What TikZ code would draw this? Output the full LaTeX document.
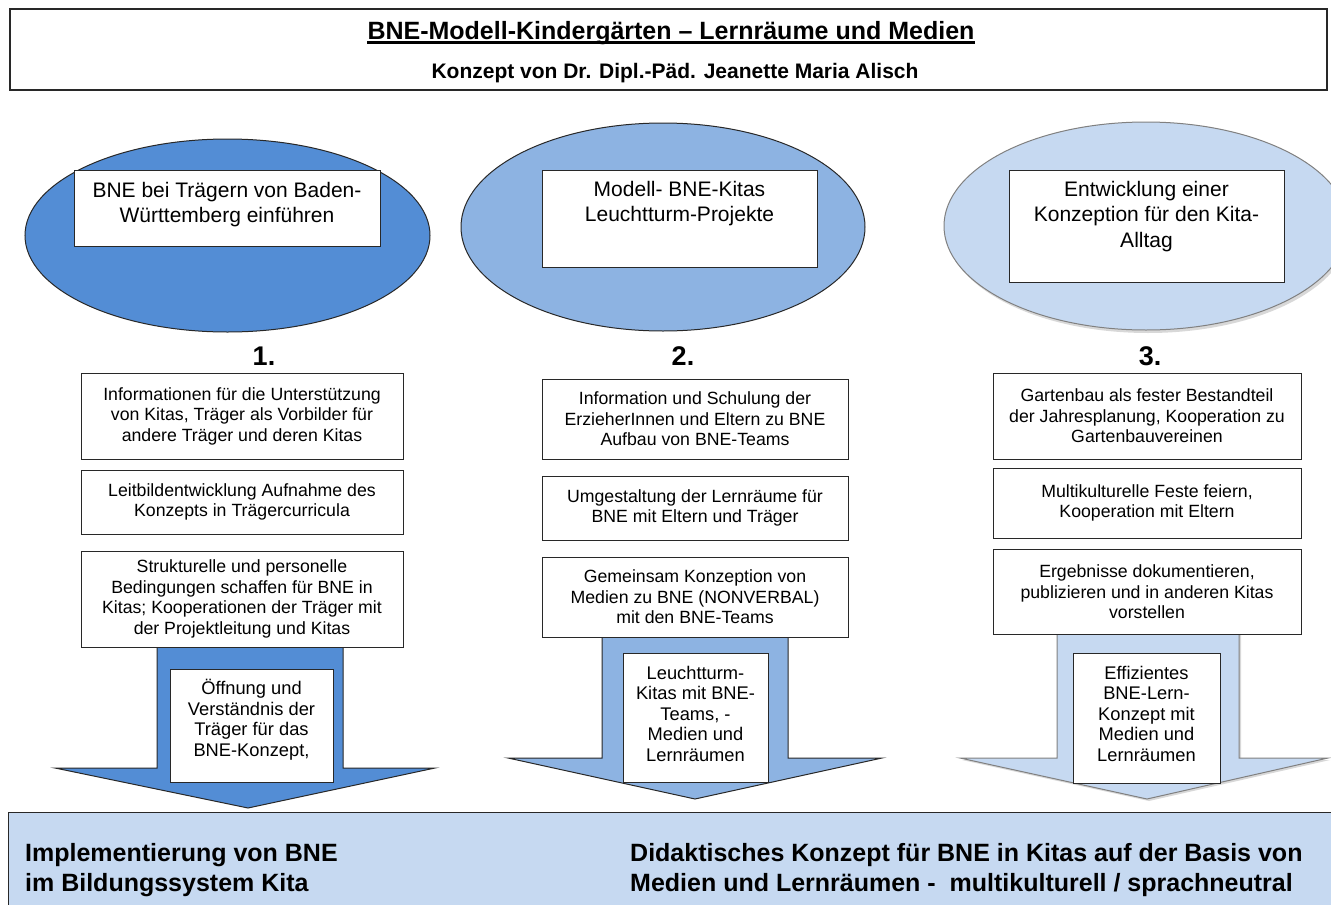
\documentclass[tikz,border=0pt]{standalone}
\usepackage{fontspec}
\setmainfont{Liberation Sans}
\usetikzlibrary{shapes.geometric,shadows}

\definecolor{bneblue}{RGB}{83,141,213}
\definecolor{bnemid}{RGB}{141,179,226}
\definecolor{bnepale}{RGB}{198,217,241}
\definecolor{bneline}{RGB}{40,40,40}
\definecolor{bnegrey}{RGB}{128,128,128}

\tikzset{
  oval/.style={ellipse, draw=bneline, line width=1pt, inner sep=0pt},
  headbox/.style={draw=bneline, fill=white, line width=1pt, inner sep=0pt},
  headtext/.style={anchor=north, align=center, inner sep=0pt, font=\fontsize{21}{25.5}\selectfont},
  numlabel/.style={anchor=base, inner sep=0pt, font=\bfseries\fontsize{27}{30}\selectfont},
  stepbox/.style={draw=bneline, fill=white, line width=1pt, align=center, inner sep=0pt,
    font=\fontsize{17.7}{20.5}\selectfont},
  blockarrow/.style={draw=bneline, line width=1pt, line join=miter},
  resultbox/.style={draw=bneline, fill=white, line width=1pt, inner sep=0pt},
  resulttext/.style={anchor=north, align=center, inner sep=0pt, font=\fontsize{18.3}{20.5}\selectfont},
  goaltext/.style={anchor=north west, align=left, inner sep=0pt, font=\bfseries\fontsize{25}{30}\selectfont}
}

\begin{document}
\begin{tikzpicture}[x=1pt,y=-1pt]
\clip (0,0) rectangle (1331,905);
\fill[white] (0,0) rectangle (1331,905);

% Kopf
\node[draw=bneline, line width=1.2pt, inner sep=0pt, minimum width=1317, minimum height=81] (titlebox) at (668.5,49.5) {};
\node[anchor=base, inner sep=0pt, font=\bfseries\fontsize{25}{30}\selectfont] (title) at (671,39) {BNE-Modell-Kindergärten – Lernräume und Medien};
\draw[line width=2.3pt] ([yshift=-3.5pt]title.base west) -- ([yshift=-3.5pt]title.base east);
\node[anchor=base, inner sep=0pt, font=\bfseries\fontsize{21}{25}\selectfont] (subtitle) at (675,78) {Konzept von Dr. Dipl.-Päd. Jeanette Maria Alisch};

% Ziele (Ellipsen)
\node[oval, fill=bneblue, minimum width=405, minimum height=193] (goal1) at (227.5,235.5) {};
\node[oval, fill=bnemid, minimum width=404, minimum height=208] (goal2) at (663,227) {};
\node[oval, fill=bnepale, draw=bnegrey, drop shadow={opacity=0.3, shadow xshift=2pt, shadow yshift=-3pt},
  minimum width=404, minimum height=208] (goal3) at (1146,226) {};

\node[headbox, minimum width=306, minimum height=76] (head1) at (227,208) {};
\node[headbox, minimum width=275, minimum height=97] (head2) at (679.5,218.5) {};
\node[headbox, minimum width=275, minimum height=112] (head3) at (1146.5,226) {};
\node[headtext] (headtext1) at (227,182) {BNE bei Trägern von Baden-\\Württemberg einführen};
\node[headtext] (headtext2) at (679.5,181) {Modell- BNE-Kitas\\Leuchtturm-Projekte};
\node[headtext] (headtext3) at (1146.5,181) {Entwicklung einer\\Konzeption für den Kita-\\Alltag};

\node[numlabel] (num1) at (264,365) {1.};
\node[numlabel] (num2) at (683,365) {2.};
\node[numlabel] (num3) at (1150,365) {3.};

% Blockpfeile
\draw[blockarrow, fill=bneblue] (157,640) -- (157,768) -- (55,768) -- (248,808) -- (435,768) -- (343,768) -- (343,640) -- cycle;
\draw[blockarrow, fill=bnemid] (602,630) -- (602,758) -- (508,758) -- (695,799) -- (882,758) -- (788,758) -- (788,630) -- cycle;
\draw[blockarrow, fill=bnepale, draw=bnegrey, drop shadow={opacity=0.3, shadow xshift=2pt, shadow yshift=-2pt}]
  (1057,630) -- (1057,758) -- (960,758) -- (1147,799) -- (1328,758) -- (1239,758) -- (1239,630) -- cycle;

% Spalte 1
\node[stepbox, minimum width=322, minimum height=86] (step1a) at (242,416) {Informationen für die Unterstützung\\von Kitas, Träger als Vorbilder für\\andere Träger und deren Kitas};
\node[stepbox, minimum width=322, minimum height=64] (step1b) at (242,502) {Leitbildentwicklung Aufnahme des\\Konzepts in Trägercurricula};
\node[stepbox, minimum width=322, minimum height=96] (step1c) at (242,599) {Strukturelle und personelle\\Bedingungen schaffen für BNE in\\Kitas; Kooperationen der Träger mit\\der Projektleitung und Kitas};

% Spalte 2
\node[stepbox, minimum width=306, minimum height=80] (step2a) at (695,419) {Information und Schulung der\\ErzieherInnen und Eltern zu BNE\\Aufbau von BNE-Teams};
\node[stepbox, minimum width=306, minimum height=64] (step2b) at (695,508) {Umgestaltung der Lernräume für\\BNE mit Eltern und Träger};
\node[stepbox, minimum width=306, minimum height=80] (step2c) at (695,597) {Gemeinsam Konzeption von\\Medien zu BNE (NONVERBAL)\\mit den BNE-Teams};

% Spalte 3
\node[stepbox, minimum width=308, minimum height=86] (step3a) at (1147,416) {Gartenbau als fester Bestandteil\\der Jahresplanung, Kooperation zu\\Gartenbauvereinen};
\node[stepbox, minimum width=308, minimum height=70] (step3b) at (1147,503) {Multikulturelle Feste feiern,\\Kooperation mit Eltern};
\node[stepbox, minimum width=308, minimum height=85] (step3c) at (1147,592) {Ergebnisse dokumentieren,\\publizieren und in anderen Kitas\\vorstellen};

% Ergebnisse in den Pfeilen
\node[resultbox, minimum width=163, minimum height=113] (result1) at (251.5,725.5) {};
\node[resultbox, minimum width=145, minimum height=129] (result2) at (695.5,717.5) {};
\node[resultbox, minimum width=147, minimum height=130] (result3) at (1146.5,718) {};
\node[resulttext] (resulttext1) at (251.5,679) {Öffnung und\\Verständnis der\\Träger für das\\BNE-Konzept,};
\node[resulttext] (resulttext2) at (695.5,666) {Leuchtturm-\\Kitas mit BNE-\\Teams, -\\Medien und\\Lernräumen};
\node[resulttext] (resulttext3) at (1146.5,666) {Effizientes\\BNE-Lern-\\Konzept mit\\Medien und\\Lernräumen};

% Leitziele unten
\node[draw=bneline, fill=bnepale, line width=1pt, inner sep=0pt, minimum width=1332, minimum height=103, anchor=north west] (goalbar) at (8,812) {};
\node[goaltext] (goalleft) at (25,843) {Implementierung von BNE\\im Bildungssystem Kita};
\node[goaltext] (goalright) at (630,843) {Didaktisches Konzept für BNE in Kitas auf der Basis von\\Medien und Lernräumen - \ multikulturell / sprachneutral};
\end{tikzpicture}
\end{document}
